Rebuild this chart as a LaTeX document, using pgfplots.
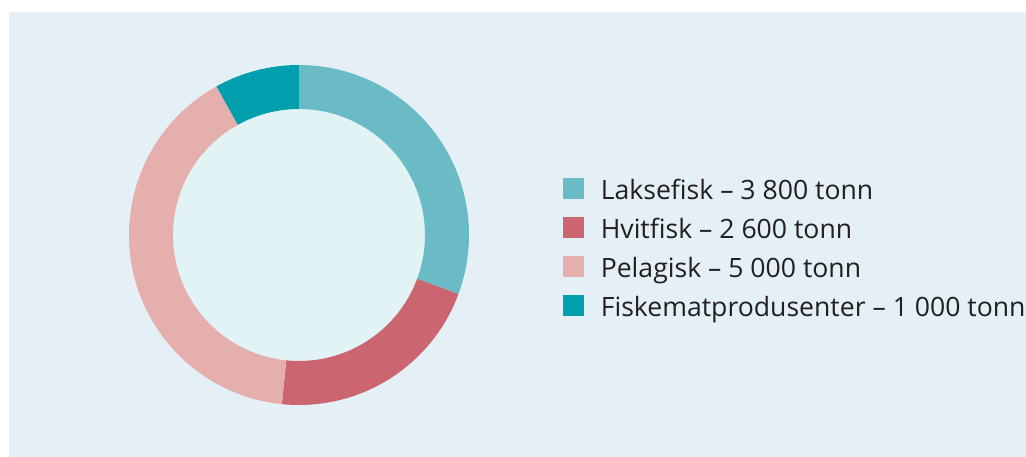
\documentclass[border=0pt]{standalone}
\usepackage{pgfplots}
\pgfplotsset{compat=1.18}
\usepackage{fontspec}
\setmainfont{Open Sans}
\definecolor{panel}{HTML}{E4F0F5}
\definecolor{hole}{HTML}{E2F3F6}
\definecolor{laks}{HTML}{6BBBC7}
\definecolor{hvit}{HTML}{CB6670}
\definecolor{pelag}{HTML}{E5AFAE}
\definecolor{fiske}{HTML}{009FAE}
\definecolor{txt}{HTML}{231F20}

% values in tonn
\def\vLaks{3800}
\def\vHvit{2600}
\def\vPelag{5000}
\def\vFiske{1000}

\begin{document}
\begin{tikzpicture}
\path[use as bounding box, fill=white] (0pt,0pt) rectangle (1026pt,457pt);
\pgfmathsetmacro\tot{\vLaks+\vHvit+\vPelag+\vFiske}
\pgfmathsetmacro\aA{90}
\pgfmathsetmacro\aB{\aA-360*(\vLaks/\tot)}
\pgfmathsetmacro\aC{\aB-360*(\vHvit/\tot)}
\pgfmathsetmacro\aD{\aC-360*(\vPelag/\tot)}
\pgfmathsetmacro\aE{\aD-360*(\vFiske/\tot)}
\def\cx{299}\def\cy{222}\def\R{170}\def\r{126}
\newcommand\sector[3]{%
  \fill[#1] (axis cs:{\cx+\R*cos(#2)},{\cy+\R*sin(#2)})
    arc[start angle=#2, end angle=#3, radius=\R]
    -- (axis cs:{\cx+\r*cos(#3)},{\cy+\r*sin(#3)})
    arc[start angle=#3, end angle=#2, radius=\r] -- cycle;}
\begin{axis}[
  at={(0pt,0pt)}, anchor=origin,
  scale only axis, width=1026pt, height=457pt,
  xmin=0, xmax=1026, ymin=0, ymax=457,
  axis lines=none, clip=false,
  legend cell align=left,
  legend image code/.code={\fill[#1] (0pt,-5.7pt) rectangle (20pt,14.3pt);},
  legend style={at={(axis cs:563,278.7)}, anchor=north west, draw=none, fill=none,
    inner sep=0pt, row sep=11pt, text=txt,
    font=\fontsize{26.6}{26.6}\selectfont,
    nodes={inner sep=0pt, text height=20pt, text depth=7pt},
    /tikz/every odd column/.append style={column sep=17.2pt}},
]
\fill[panel] (axis cs:9,0) rectangle (axis cs:1026,445);
\fill[hole] (axis cs:\cx,\cy) circle[radius=\r];
\sector{laks}{\aA}{\aB}
\sector{hvit}{\aB}{\aC}
\sector{pelag}{\aC}{\aD}
\sector{fiske}{\aD}{\aE}
\addlegendimage{laks}\addlegendentry{Laksefisk – 3 800 tonn}
\addlegendimage{hvit}\addlegendentry{Hvitfisk – 2 600 tonn}
\addlegendimage{pelag}\addlegendentry{Pelagisk – 5 000 tonn}
\addlegendimage{fiske}\addlegendentry{Fiskematprodusenter – 1 000 tonn}
\end{axis}
\end{tikzpicture}
\end{document}
